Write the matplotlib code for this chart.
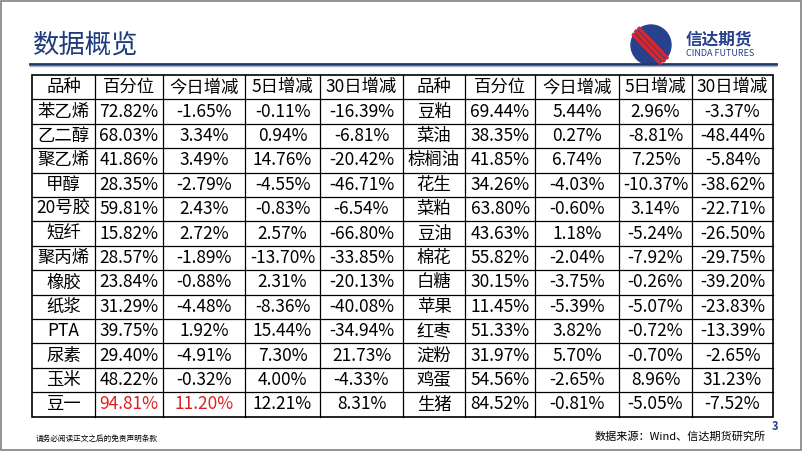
import matplotlib.pyplot as plt
from matplotlib.patches import Rectangle, Circle

plt.rcParams['font.family'] = ['Noto Sans CJK SC', 'DejaVu Sans']

header = ['品种', '百分位', '今日增减', '5日增减', '30日增减', '品种', '百分位', '今日增减', '5日增减', '30日增减']
left_names = ['苯乙烯', '乙二醇', '聚乙烯', '甲醇', '20号胶', '短纤', '聚丙烯', '橡胶', '纸浆', 'PTA', '尿素', '玉米', '豆一']
left_pct = ['72.82%', '68.03%', '41.86%', '28.35%', '59.81%', '15.82%', '28.57%', '23.84%', '31.29%', '39.75%', '29.40%', '48.22%', '94.81%']
left_d1 = ['-1.65%', '3.34%', '3.49%', '-2.79%', '2.43%', '2.72%', '-1.89%', '-0.88%', '-4.48%', '1.92%', '-4.91%', '-0.32%', '11.20%']
left_d5 = ['-0.11%', '0.94%', '14.76%', '-4.55%', '-0.83%', '2.57%', '-13.70%', '2.31%', '-8.36%', '15.44%', '7.30%', '4.00%', '12.21%']
left_d30 = ['-16.39%', '-6.81%', '-20.42%', '-46.71%', '-6.54%', '-66.80%', '-33.85%', '-20.13%', '-40.08%', '-34.94%', '21.73%', '-4.33%', '8.31%']
right_names = ['豆粕', '菜油', '棕榈油', '花生', '菜粕', '豆油', '棉花', '白糖', '苹果', '红枣', '淀粉', '鸡蛋', '生猪']
right_pct = ['69.44%', '38.35%', '41.85%', '34.26%', '63.80%', '43.63%', '55.82%', '30.15%', '11.45%', '51.33%', '31.97%', '54.56%', '84.52%']
right_d1 = ['5.44%', '0.27%', '6.74%', '-4.03%', '-0.60%', '1.18%', '-2.04%', '-3.75%', '-5.39%', '3.82%', '5.70%', '-2.65%', '-0.81%']
right_d5 = ['2.96%', '-8.81%', '7.25%', '-10.37%', '3.14%', '-5.24%', '-7.92%', '-0.26%', '-5.07%', '-0.72%', '-0.70%', '8.96%', '-5.05%']
right_d30 = ['-3.37%', '-48.44%', '-5.84%', '-38.62%', '-22.71%', '-26.50%', '-29.75%', '-39.20%', '-23.83%', '-13.39%', '-2.65%', '31.23%', '-7.52%']
red_cells = [(12, 1), (12, 2)]

cols = [left_names, left_pct, left_d1, left_d5, left_d30, right_names, right_pct, right_d1, right_d5, right_d30]

fig = plt.figure(figsize=(8.02, 4.51), dpi=100)
ax = fig.add_axes([0, 0, 1, 1])
ax.set_xlim(0, 802)
ax.set_ylim(451, 0)
ax.axis('off')

# frame and title
ax.add_patch(Rectangle((1, 1), 800, 449, fill=False, ec='#808080', lw=1.2))
ax.text(33, 45, '数据概览', fontsize=19, color='#1F3C7A', va='center')
ax.plot([30, 776], [64, 64], color='#1F3C6E', lw=2)
ax.plot([30, 776], [66, 66], color='#A8B4C8', lw=1)

# logo
ax.add_patch(Circle((651, 45), 20, color='#27418C'))
for off in (-6, 0, 6):
    ln, = ax.plot([630 + off, 668 + off], [25, 65], color='#D7262C', lw=2.5, solid_capstyle='butt')
    ln.set_clip_path(Circle((651, 45), 22, transform=ax.transData))
ax.text(686, 39, '信达期货', fontsize=12, color='#27418C', va='center', weight='bold')
ax.text(686, 54, 'CINDA FUTURES', fontsize=6.5, color='#27418C', va='center')

# table
xs = [32, 95, 163, 245, 320, 403, 465, 535, 619, 692, 773]
top, rh = 75, 24.4
nrows = len(left_names) + 1
ax.add_patch(Rectangle((xs[0], top), xs[-1] - xs[0], rh * nrows, fill=False, ec='black', lw=1.2))
for x in xs[1:-1]:
    ax.plot([x, x], [top, top + rh * nrows], color='black', lw=0.9)
for r in range(1, nrows):
    ax.plot([xs[0], xs[-1]], [top + r * rh, top + r * rh], color='black', lw=0.9)

for c, h in enumerate(header):
    ax.text((xs[c] + xs[c + 1]) / 2, top + rh / 2, h, ha='center', va='center', fontsize=12.5)
for c, col in enumerate(cols):
    for r, v in enumerate(col):
        color = '#E02020' if (r, c) in red_cells else 'black'
        ax.text((xs[c] + xs[c + 1]) / 2, top + (r + 1.5) * rh, v, ha='center', va='center',
                fontsize=12.5, color=color)

ax.text(36, 439, '请务必阅读正文之后的免责声明条款', fontsize=5.5, va='center')
ax.text(766, 437, '数据来源：Wind、信达期货研究所', fontsize=8, ha='right', va='center')
ax.text(775, 427, '3', fontsize=8, ha='center', va='center', color='#27418C', weight='bold')

fig.savefig('out.png', dpi=100)
